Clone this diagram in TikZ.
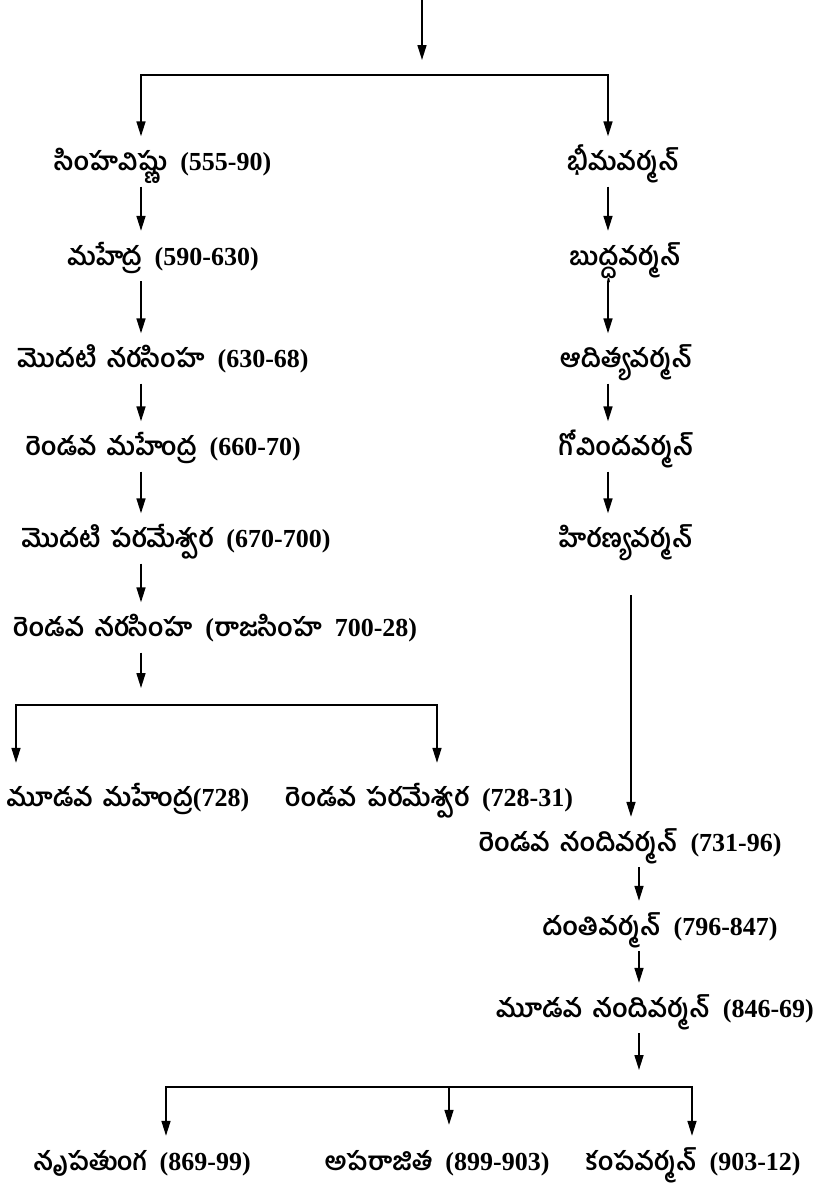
\documentclass[tikz,border=0pt]{standalone}
\usepackage{fontspec}
\newfontfamily\numfont{Liberation Serif Bold}[WordSpace=2]
\newfontfamily\tefont[Script=Telugu,WordSpace=1.6]{Hind Guntur}
\usetikzlibrary{arrows.meta}
\newcommand\telu[1]{{\tefont\bfseries\fontsize{25.5}{30}\selectfont #1}}
\begin{document}
\begin{tikzpicture}[x=1pt,y=-1pt,
  lbl/.style={inner xsep=0pt,inner ysep=16pt,text height=18pt,text depth=0pt,
    font=\numfont\fontsize{26}{30}\selectfont},
  arr/.style={line width=1.6pt,-{Triangle[length=15pt,width=9pt]}},
  bar/.style={line width=2.4pt,shorten <=-0.8pt,shorten >=-0.8pt}]
\useasboundingbox (0,0) rectangle (823,1192);
% column positions
\coordinate (cL) at (141,0);
\coordinate (cR) at (608,0);
\coordinate (cLong) at (631,0);
\coordinate (cR2) at (639,0);
% left column
\node[lbl] (a1) at (163,161.5) {\telu{సింహవిష్ణు} (555-90)};
\node[lbl] (a2) at (163,256) {\telu{మహేద్ర} (590-630)};
\node[lbl] (a3) at (163,358.5) {\telu{మొదటి నరసింహ} (630-68)};
\node[lbl] (a4) at (163,446.5) {\telu{రెండవ మహేంద్ర} (660-70)};
\node[lbl] (a5) at (176,538.5) {\telu{మొదటి పరమేశ్వర} (670-700)};
\node[lbl] (a6) at (215,627.5) {\telu{రెండవ నరసింహ} (\telu{రాజసింహ} 700-28)};
% right column
\node[lbl] (b1) at (623,161.5) {\telu{భీమవర్మన్}};
\node[lbl] (b2) at (625,256) {\telu{బుద్ధవర్మన్}};
\node[lbl] (b3) at (626,358.5) {\telu{ఆదిత్యవర్మన్}};
\node[lbl] (b4) at (626,446.5) {\telu{గోవిందవర్మన్}};
\node[lbl] (b5) at (626,538.5) {\telu{హిరణ్యవర్మన్}};
% left lower branch
\node[lbl] (c1) at (128,797) {\telu{మూడవ మహేంద్ర}(728)};
\node[lbl] (c2) at (429,797) {\telu{రెండవ పరమేశ్వర} (728-31)};
% right lower chain
\node[lbl] (d1) at (630,842) {\telu{రెండవ నందివర్మన్} (731-96)};
\node[lbl] (d2) at (660,926) {\telu{దంతివర్మన్} (796-847)};
\node[lbl] (d3) at (655,1008) {\telu{మూడవ నందివర్మన్} (846-69)};
% bottom
\node[lbl] (e1) at (142,1161) {\telu{నృపతుంగ} (869-99)};
\node[lbl] (e2) at (437,1161) {\telu{అపరాజిత} (899-903)};
\node[lbl] (e3) at (693,1161) {\telu{కంపవర్మన్} (903-12)};
% top branch
\coordinate (top) at (422,0);
\coordinate (topend) at (422,60);
\coordinate (j1) at (422,75);
\draw[arr] (top) -- (topend);
\draw[bar] (j1 -| cL) -- (j1 -| cR);
\draw[arr] (j1 -| cL) -- (a1.north -| cL);
\draw[arr] (j1 -| cR) -- (b1.north -| cR);
% left chain
\draw[arr] (a1.south -| cL) -- (a2.north -| cL);
\draw[arr] (a2.south -| cL) -- (a3.north -| cL);
\draw[arr] (a3.south -| cL) -- (a4.north -| cL);
\draw[arr] (a4.south -| cL) -- (a5.north -| cL);
\draw[arr] (a5.south -| cL) -- (a6.north -| cL);
% right chain
\draw[arr] (b1.south -| cR) -- (b2.north -| cR);
\draw[arr] (b2.south -| cR) -- (b3.north -| cR);
\draw[arr] (b3.south -| cR) -- (b4.north -| cR);
\draw[arr] (b4.south -| cR) -- (b5.north -| cR);
\draw[arr,shorten <=31.5pt] (b5.south -| cLong) -- (d1.north -| cLong);
% left lower branch
\coordinate (j2) at (141,705);
\coordinate (j2in) at (141,688);
\coordinate (cCa) at (16,0);
\coordinate (cCb) at (437,0);
\draw[arr] (a6.south -| cL) -- (j2in);
\draw[bar] (j2 -| cCa) -- (j2 -| cCb);
\draw[arr,shorten >=9pt] (j2 -| cCa) -- (c1.north -| cCa);
\draw[arr,shorten >=9pt] (j2 -| cCb) -- (c2.north -| cCb);
% right lower chain
\draw[arr] (d1.south -| cR2) -- (d2.north -| cR2);
\draw[arr] (d2.south -| cR2) -- (d3.north -| cR2);
% bottom branch
\coordinate (j3in) at (639,1070);
\coordinate (j3) at (639,1087);
\coordinate (cEa) at (166,0);
\coordinate (cEb) at (449,0);
\coordinate (cEc) at (692,0);
\draw[arr] (d3.south -| cR2) -- (j3in);
\draw[bar] (j3 -| cEa) -- (j3 -| cEc);
\draw[arr] (j3 -| cEa) -- (e1.north -| cEa);
\draw[arr,shorten >=11pt] (j3 -| cEb) -- (e2.north -| cEb);
\draw[arr] (j3 -| cEc) -- (e3.north -| cEc);
\end{tikzpicture}
\end{document}
